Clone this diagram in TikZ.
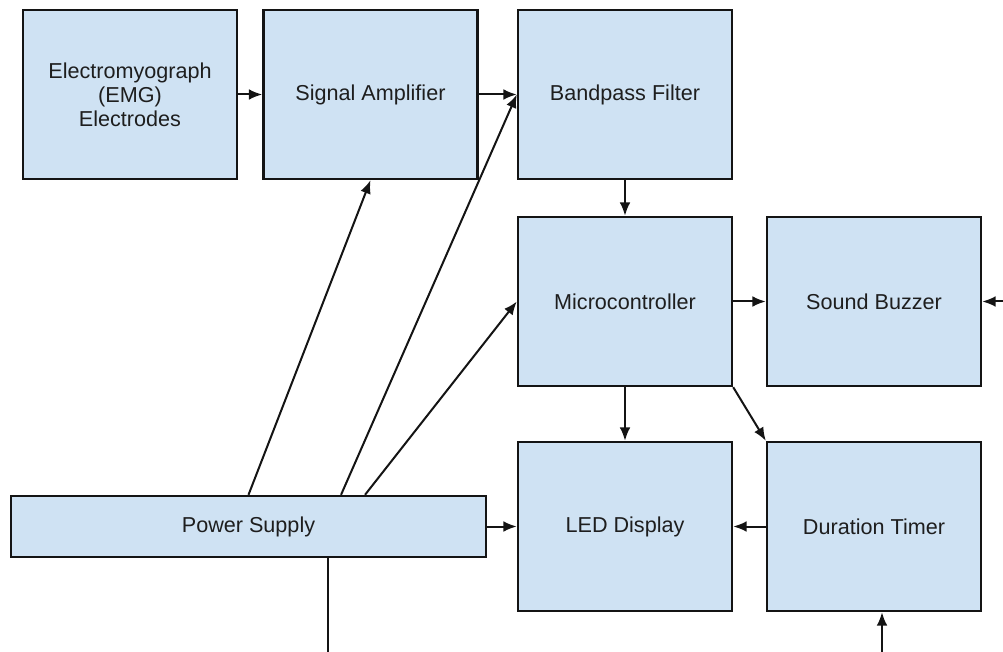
\documentclass[tikz,border=0pt]{standalone}
\usepackage{fontspec}
\setmainfont{Liberation Sans}
\usepackage{tikz}
\usetikzlibrary{calc,positioning,arrows.meta}
\definecolor{boxBlue}{HTML}{CFE2F3}
\definecolor{boxEdge}{HTML}{141414}
\definecolor{textGray}{HTML}{1E1E1E}

\begin{document}
\begin{tikzpicture}[
  x=0.75pt, y=-0.75pt,
  >={Latex[length=10pt,width=8pt]},
  block/.style={draw=boxEdge, line width=1.8pt, fill=boxBlue, minimum width=160.5pt,
    minimum height=126.75pt, inner sep=0pt, align=center, text=textGray,
    font=\fontsize{16.2}{18}\selectfont},
  link/.style={->, draw=boxEdge, line width=1.5pt},
  wire/.style={draw=boxEdge, line width=1.5pt},
]
\useasboundingbox (0,0) rectangle (1003,652);

% Signal chain, top row
\node[block] (emg) at (130,94.5) {Electromyograph\\(EMG)\\Electrodes};
\node[block] (amp) at (370.5,94.5) {Signal Amplifier};
\node[block] (bpf) at (625,94.5) {Bandpass Filter};

% Middle and bottom rows
\node[block] (mcu) at (625,301.5) {Microcontroller};
\node[block] (buzzer) at (874,301.5) {Sound Buzzer};
\node[block] (led) at (625,526.5) {LED Display};
\node[block] (timer) at (874,526.5) {Duration Timer};
\node[block, minimum width=356.25pt, minimum height=45.75pt] (psu) at (248.5,526.5) {Power Supply};

% Leads running off the page
\coordinate (psuOut) at (328,652);
\coordinate (timerIn) at (882,652);
\coordinate (buzzerIn) at (1003,301.5);

\draw[link] (emg) -- (amp);
\draw[link] (amp) -- (bpf);
\draw[link] (bpf) -- (mcu);
\draw[link] (mcu) -- (buzzer);
\draw[link] (mcu) -- (led);
\draw[link] (mcu.south east) -- (timer.north west);
\draw[link] (timer) -- (led);
\draw[link] (psu) -- (led);

% Supply lines
\draw[link] (psu.north) -- (amp.south);
\draw[link] ([xshift=69.4pt]psu.north) -- (bpf.west);
\draw[link] ([xshift=87.4pt]psu.north) -- (mcu.west);
\draw[wire] (psu.south -| psuOut) -- (psuOut);
\draw[link] (timerIn) -- (timerIn |- timer.south);
\draw[link] (buzzerIn) -- (buzzer.east);
\end{tikzpicture}
\end{document}
